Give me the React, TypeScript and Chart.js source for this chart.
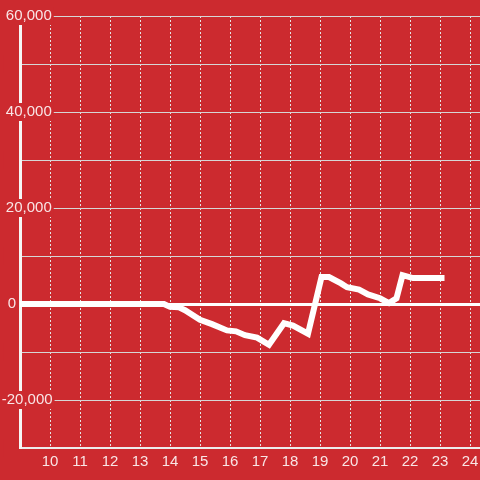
import React, { useEffect, useRef } from 'react';
import { Chart, registerables } from 'chart.js';

Chart.register(...registerables);

// Hours of the day (x) and running value (y)
const hours = [9, 13.8, 14.0, 14.3, 14.5, 15.0, 15.4, 15.9, 16.2, 16.5, 16.9, 17.3, 17.8, 18.1, 18.6, 19.05, 19.3, 19.7, 19.9, 20.3, 20.6, 21.0, 21.3, 21.55, 21.75, 22.1, 23.15];
const values = [0, 0, -600, -700, -1300, -3300, -4200, -5500, -5700, -6500, -7000, -8500, -4000, -4500, -6200, 5600, 5600, 4300, 3500, 3000, 2000, 1200, 200, 1200, 6000, 5400, 5400];

const xLabelTicks = [10, 11, 12, 13, 14, 15, 16, 17, 18, 19, 20, 21, 22, 23, 24];
const yLabelTicks = [60000, 40000, 20000, 0, -20000];

const RED = '#cc2a2f';
const TEXT = 'rgba(255,255,255,0.88)';

export default function App() {
  const ref = useRef<HTMLCanvasElement | null>(null);

  useEffect(() => {
    if (!ref.current) return;
    const points = hours.map((h, i) => ({ x: h, y: values[i] }));
    const chart = new Chart(ref.current, {
      type: 'line',
      data: {
        datasets: [
          {
            data: points,
            borderColor: '#ffffff',
            borderWidth: 6,
            pointRadius: 0,
            tension: 0,
            fill: false,
          },
        ],
      },
      options: {
        animation: false,
        responsive: false,
        devicePixelRatio: 1,
        layout: { padding: { left: 20, top: 16, right: 0, bottom: 0 } },
        plugins: { legend: { display: false }, tooltip: { enabled: false } },
        font: { family: "'Liberation Sans', Arial, sans-serif", size: 15 },
        scales: {
          x: {
            type: 'linear',
            min: 9,
            max: 25,
            afterFit: (s: any) => {
              s.height = 32;
              s.paddingLeft = 0;
              s.paddingRight = 0;
            },
            ticks: {
              stepSize: 1,
              autoSkip: false,
              maxRotation: 0,
              padding: 5,
              color: TEXT,
              font: { family: "'Liberation Sans', Arial, sans-serif", size: 15 },
              callback: (v: any) => (xLabelTicks.includes(Number(v)) ? String(v) : ''),
            },
            grid: {
              color: '#e4e4e4',
              lineWidth: 1,
              drawTicks: false,
            },
            border: { display: true, color: '#ececec', width: 2, dash: [2, 2] },
          },
          y: {
            type: 'linear',
            min: -30000,
            max: 60000,
            afterFit: (s: any) => {
              s.width = 0;
              s.paddingTop = 0;
              s.paddingBottom = 0;
            },
            ticks: {
              stepSize: 10000,
              autoSkip: false,
              mirror: true,
              padding: -18.3,
              color: TEXT,
              font: { family: "'Liberation Sans', Arial, sans-serif", size: 15 },
              showLabelBackdrop: true,
              backdropColor: RED,
              backdropPadding: { x: 2, y: 0 },
              callback: (v: any) => {
                const n = Number(v);
                if (!yLabelTicks.includes(n)) return '';
                const txt = n.toLocaleString('en-US');
                if (n > 0) return ' ' + txt;
                if (n === 0) return '\u2009\u2009' + txt;
                return txt;
              },
            },
            grid: {
              color: (c: any) => (c.tick && c.tick.value === 0 ? '#ffffff' : '#d6d6d6'),
              lineWidth: (c: any) => (c.tick && c.tick.value === 0 ? 3 : 1),
              drawTicks: false,
            },
            border: { display: true, color: '#f6f6f6', width: 3 },
          },
        },
      } as any,
    });
    return () => chart.destroy();
  }, []);

  return (
    <div
      style={{
        position: 'fixed',
        left: 0,
        top: 0,
        width: 480,
        height: 480,
        overflow: 'hidden',
        background: RED,
      }}
    >
      <canvas ref={ref} width={500} height={480} style={{ display: 'block' }} />
    </div>
  );
}
